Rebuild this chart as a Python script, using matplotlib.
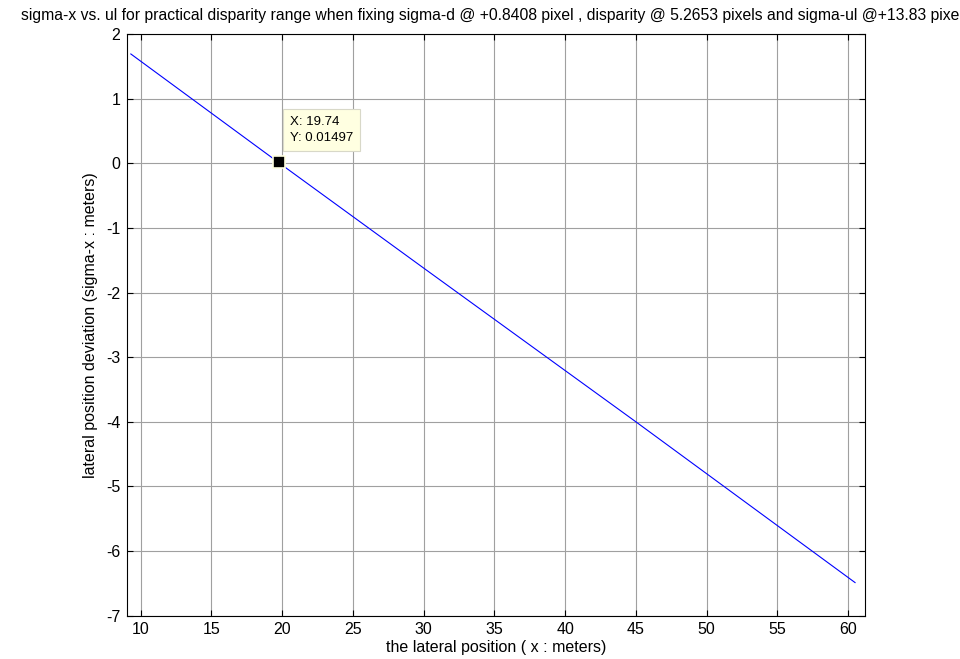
import numpy as np
import matplotlib
matplotlib.use('Agg')
import matplotlib.pyplot as plt

plt.rcParams['font.family'] = ['Liberation Sans', 'DejaVu Sans']
plt.rcParams['axes.unicode_minus'] = False

# values (almost a straight line)
x_pos = [9.3, 19.74, 30.0, 45.0, 60.5]
sigma_x = [1.695, 0.01497, -1.62, -4.0, -6.49]
tip_x = 19.74
tip_y = 0.01497
xticks = [10, 15, 20, 25, 30, 35, 40, 45, 50, 55, 60]
yticks = [-7, -6, -5, -4, -3, -2, -1, 0, 1, 2]

fig = plt.figure(figsize=(9.6, 6.59), dpi=100)
ax = fig.add_axes([0.1326, 0.066, 0.7684, 0.882])

ax.plot(x_pos, sigma_x, color='#0000ff', lw=0.8)
ax.plot([tip_x], [tip_y], marker='s', ms=8.5, color='black',
        markeredgecolor='#ffffe1', markeredgewidth=1.2, zorder=5)
ax.annotate('X: %.2f\nY: %.5f' % (tip_x, tip_y), xy=(tip_x, tip_y),
            xytext=(20.55, 0.74), fontsize=9.5, va='top', ha='left',
            linespacing=1.5,
            bbox=dict(boxstyle='square,pad=0.5', fc='#ffffe1', ec='#d8d8c8', lw=0.8))

ax.set_xlim(9.05, 61.2)
ax.set_ylim(-7, 2)
ax.set_xticks(xticks)
ax.set_yticks(yticks)
ax.grid(True, color='#a0a0a0', lw=0.8, ls='-')
ax.tick_params(direction='in', top=True, right=True, length=4, labelsize=11.5, pad=5)
for s in ax.spines.values():
    s.set_linewidth(0.8)

ax.set_title('sigma-x vs. ul for practical disparity range when fixing sigma-d @ +0.8408 pixel , '
             'disparity @ 5.2653 pixels and sigma-ul @+13.83 pixels', fontsize=11.3, pad=10)
ax.set_xlabel('the lateral position ( x : meters)', fontsize=11.5, labelpad=2)
ax.set_ylabel('lateral position deviation (sigma-x : meters)', fontsize=11.5, labelpad=6)

fig.savefig('out.png', dpi=100)
